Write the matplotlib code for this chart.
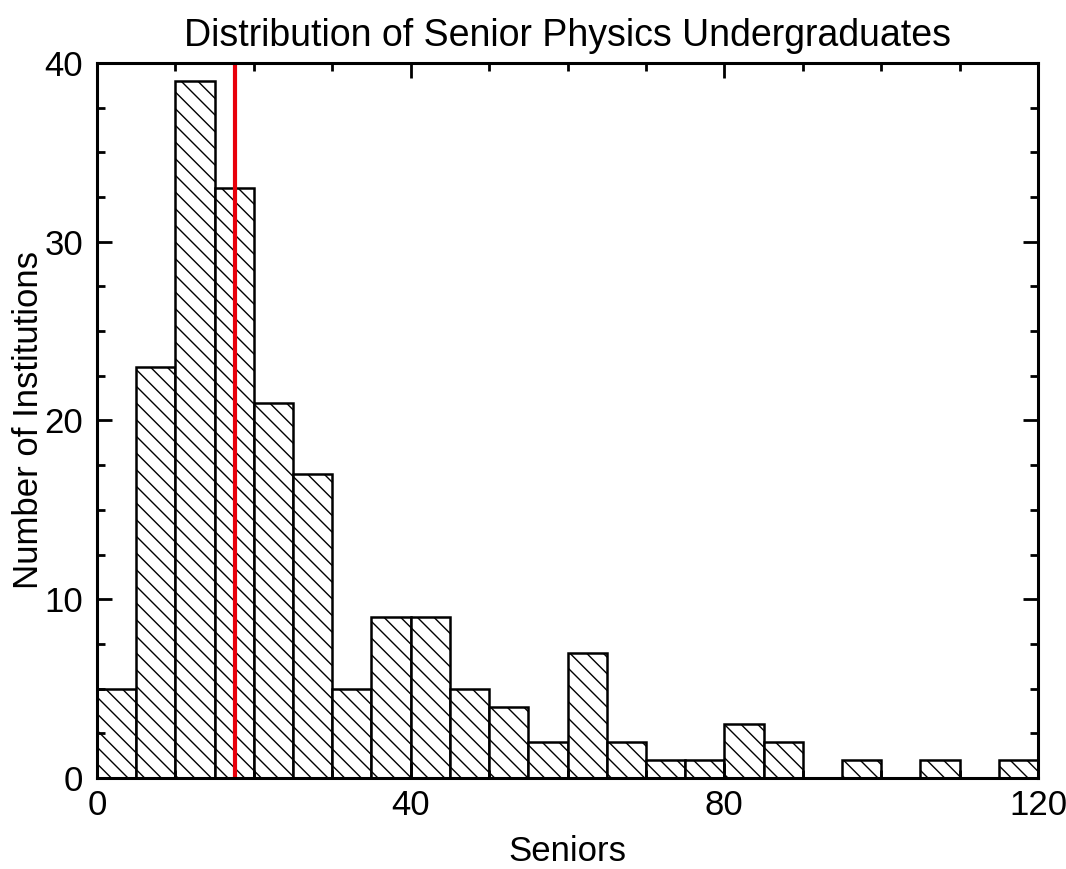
import numpy as np
import matplotlib
matplotlib.use("Agg")
import matplotlib.pyplot as plt
import matplotlib.transforms as mtransforms
from matplotlib.ticker import MultipleLocator

plt.rcParams['font.family'] = ['Liberation Sans', 'DejaVu Sans']
plt.rcParams['hatch.linewidth'] = 1.0

# Histogram bins (width 5) and institution counts
bin_edges = list(range(0, 125, 5))
counts = [5, 23, 39, 33, 21, 17, 5, 9, 9, 5, 4, 2, 7, 2, 1, 1, 3, 2, 0, 1, 0, 1, 0, 1]
median_line = 17.6

fig = plt.figure(figsize=(10.66, 8.69), dpi=100)
ax = fig.add_axes([97 / 1066, 1 - 778 / 869, (1038 - 97) / 1066, (778 - 63) / 869])

lefts = np.array(bin_edges[:-1])
widths = np.diff(bin_edges)
for x0, w, c in zip(lefts, widths, counts):
    if c > 0:
        ax.bar(x0, c, width=w, align='edge', facecolor='white',
               edgecolor='black', linewidth=1.8, hatch='\\\\')

ax.axvline(median_line, color='#e8000b', linewidth=3)

ax.set_xlim(0, 120)
ax.set_ylim(0, 40)
ax.xaxis.set_major_locator(MultipleLocator(40))
ax.xaxis.set_minor_locator(MultipleLocator(10))
ax.yaxis.set_major_locator(MultipleLocator(10))
ax.yaxis.set_minor_locator(MultipleLocator(2.5))
ax.tick_params(which='both', direction='in', top=True, right=True, width=2,
               labelsize=25)
ax.tick_params(which='major', length=11)
ax.tick_params(axis='x', which='major', pad=8)
ax.tick_params(axis='y', which='major', pad=10)
ax.tick_params(which='minor', length=6)
for s in ax.spines.values():
    s.set_linewidth(2.2)

ax.set_title('Distribution of Senior Physics Undergraduates', fontsize=27, pad=12)
ax.set_xlabel('Seniors', fontsize=25, labelpad=9)
ax.set_ylabel('Number of Institutions', fontsize=25)
ax.yaxis.set_label_coords(-0.055, 0.5)

# nudge the right-most x tick label inward so it stays on the canvas
fig.canvas.draw()
last = ax.get_xticklabels()[-1]
last.set_transform(last.get_transform() +
                   mtransforms.ScaledTranslation(-6 / 100, 0, fig.dpi_scale_trans))

fig.savefig('out.png', dpi=100)
